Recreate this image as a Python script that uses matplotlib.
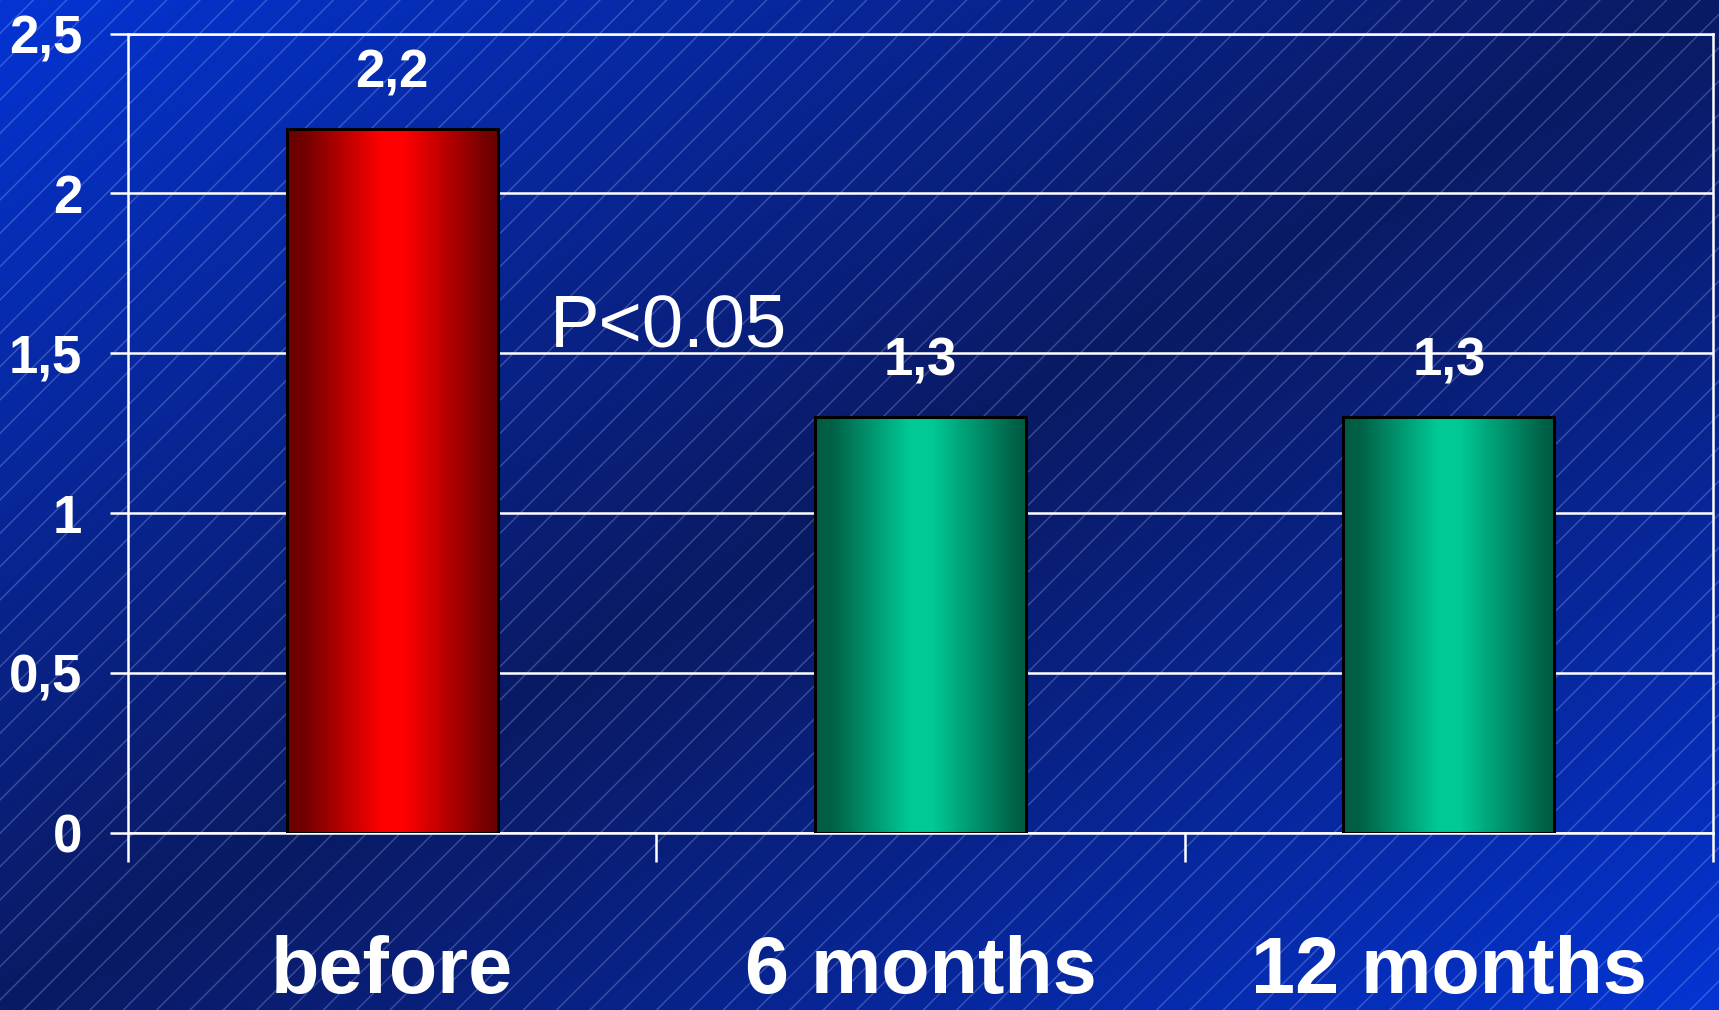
import numpy as np
import matplotlib
matplotlib.use("Agg")
from matplotlib import pyplot as plt
from matplotlib.patches import Rectangle
from matplotlib.colors import LinearSegmentedColormap
from matplotlib.transforms import blended_transform_factory

categories = ["before", "6 months", "12 months"]
values = [2.2, 1.3, 1.3]
value_labels = ["2,2", "1,3", "1,3"]
yticks = [0, 0.5, 1, 1.5, 2, 2.5]
ytick_labels = ["0", "0,5", "1", "1,5", "2", "2,5"]
note = "P<0.05"

sans = ["Liberation Sans", "DejaVu Sans"]
plt.rcParams["hatch.linewidth"] = 1.0

fig = plt.figure(figsize=(17.19, 10.10), dpi=100)

# background: blue diagonal gradient with thin light stripes
bg = fig.add_axes([0, 0, 1, 1], zorder=-1)
gy, gx = np.mgrid[0:1:300j, 0:1:500j]
d = np.abs(gx + gy - 1) ** 1.1
bright = np.array([4, 52, 212]) / 255
dark = np.array([10, 26, 100]) / 255
bg_img = dark + (bright - dark) * d[..., None]
bg.imshow(bg_img, extent=[0, 1, 0, 1], aspect="auto", origin="upper")
bg.add_patch(Rectangle((0, 0), 1, 1, transform=bg.transAxes, facecolor="none",
                       edgecolor=(0.75, 0.82, 1, 0.28), hatch="/", lw=0))
bg.set_xlim(0, 1)
bg.set_ylim(0, 1)
bg.axis("off")

ax = fig.add_axes([0.0745, 0.1752, 0.922, 0.7916])
ax.set_facecolor("none")

x = np.arange(len(categories))
bars = ax.bar(x, values, width=0.4, color="none", edgecolor="black",
              linewidth=2.2, zorder=3)

red = LinearSegmentedColormap.from_list("red", [(0.42, 0, 0), (1, 0, 0)])
green = LinearSegmentedColormap.from_list("green", [(0, 0.36, 0.26), (0, 0.79, 0.59)])
u = np.linspace(0, 1, 200)
profile = np.interp(u, [0, 0.08, 0.45, 0.55, 0.95, 1], [0, 0.05, 1, 1, 0.05, 0])
for bar, cmap in zip(bars, [red, green, green]):
    x0, w, h = bar.get_x(), bar.get_width(), bar.get_height()
    im = ax.imshow(profile[np.newaxis, :], extent=[x0, x0 + w, 0, h], aspect="auto",
                   cmap=cmap, vmin=0, vmax=1, zorder=2)
    im.set_clip_path(bar)

for xi, v, lab in zip(x, values, value_labels):
    ax.annotate(lab, (xi, v), xytext=(0, 30), textcoords="offset points",
                ha="center", va="baseline", color="white", fontsize=38,
                fontweight="bold", family=sans)

ax.text(0.299, 1.52, note, ha="left", va="baseline", color="white",
        fontsize=53.5, family=sans)

ax.set_xlim(-0.5, 2.5)
ax.set_ylim(0, 2.5)
ax.set_yticks(yticks)
ax.set_yticklabels(ytick_labels, fontsize=38, fontweight="bold", family=sans,
                   color="white")
ax.set_xticks([-0.5, 0.5, 1.5, 2.5])
ax.set_xticklabels([])
ax.tick_params(axis="y", length=13, width=1.8, color="white", pad=20)
ax.tick_params(axis="x", length=21, width=1.8, color="white")
ax.grid(axis="y", color="white", linewidth=1.8)
ax.set_axisbelow(True)
for s in ax.spines.values():
    s.set_color("white")
    s.set_linewidth(1.8)

tr = blended_transform_factory(ax.transData, fig.transFigure)
for xi, cat in zip(x, categories):
    ax.text(xi, 0.0, cat, transform=tr, ha="center", va="bottom",
            color="white", fontsize=57, fontweight="bold", family=sans)

fig.savefig("out.png", dpi=100)
